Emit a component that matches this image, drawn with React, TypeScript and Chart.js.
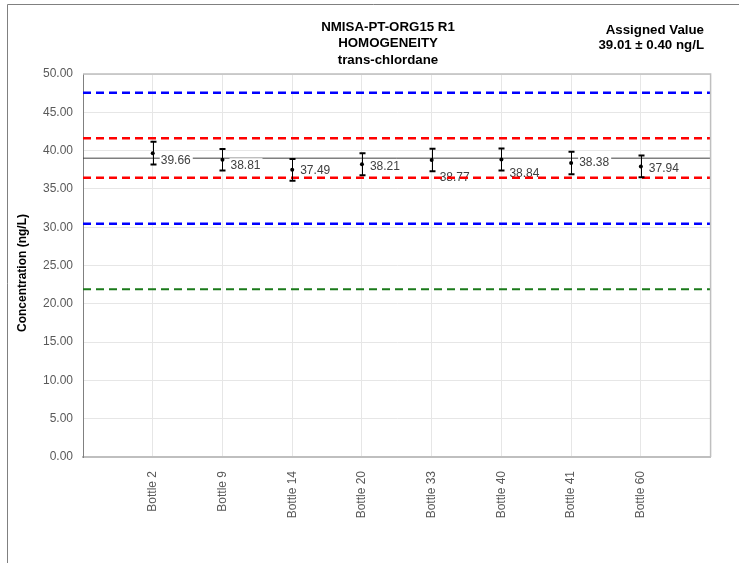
import React, { useEffect, useRef } from "react";
import { Chart, registerables } from "chart.js";

Chart.register(...registerables);

// ---- data ----
const categories = ["Bottle 2", "Bottle 9", "Bottle 14", "Bottle 20", "Bottle 33", "Bottle 40", "Bottle 41", "Bottle 60"];
const values = [39.66, 38.81, 37.49, 38.21, 38.77, 38.84, 38.38, 37.94];
const uncertainties = [1.48, 1.41, 1.41, 1.44, 1.46, 1.44, 1.46, 1.42];
const assignedValue = 39.01;
const assignedUncertainty = 0.4;
const redLimits = [41.6, 36.45];
const blueLimits = [47.55, 30.45];
const greenLimits = [21.9];
const yMin = 0;
const yMax = 50;
const yStep = 5;
const titleLines = ["NMISA-PT-ORG15 R1", "HOMOGENEITY", "trans-chlordane"];
const assignedLines = ["Assigned Value", `${assignedValue.toFixed(2)} \u00B1 ${assignedUncertainty.toFixed(2)} ng/L`];
const yAxisTitle = "Concentration (ng/L)";

// ---- styles ----
const FONT = "'Liberation Sans', Arial, sans-serif";
const labelDy = [7, 5.5, 1, 2, 18, 14, 0, 2];

const ASSIGNED_IDX = 0;
const POINTS_IDX = 1;

function hLine(y: number, color: string, dash: number[], width: number, order: number) {
  return {
    type: "line" as const,
    data: [
      { x: 0, y },
      { x: categories.length + 1, y },
    ],
    borderColor: color,
    borderWidth: width,
    borderDash: dash,
    pointRadius: 0,
    fill: false,
    order,
  };
}

const customPlugin = {
  id: "customDraw",
  beforeDraw(chart: any) {
    const { ctx, width, height } = chart;
    ctx.save();
    ctx.fillStyle = "#ffffff";
    ctx.fillRect(0, 0, width, height);
    ctx.restore();
  },
  beforeDatasetDraw(chart: any, args: any) {
    if (args.index !== POINTS_IDX) return;
    const { ctx } = chart;
    const xs = chart.scales.x;
    const ys = chart.scales.y;
    ctx.save();
    ctx.strokeStyle = "#000000";
    values.forEach((v, i) => {
      const x = Math.round(xs.getPixelForValue(i + 1)) + 0.5;
      const yt = ys.getPixelForValue(v + uncertainties[i]);
      const yb = ys.getPixelForValue(v - uncertainties[i]);
      ctx.lineWidth = 1;
      ctx.beginPath();
      ctx.moveTo(x, yt);
      ctx.lineTo(x, yb);
      ctx.stroke();
      ctx.lineWidth = 2;
      ctx.beginPath();
      ctx.moveTo(x - 3, yt);
      ctx.lineTo(x + 3, yt);
      ctx.moveTo(x - 3, yb);
      ctx.lineTo(x + 3, yb);
      ctx.stroke();
    });
    ctx.restore();
  },
  afterDatasetDraw(chart: any, args: any) {
    if (args.index !== ASSIGNED_IDX) return;
    const { ctx } = chart;
    const xs = chart.scales.x;
    const ys = chart.scales.y;
    ctx.save();
    ctx.font = `12px ${FONT}`;
    ctx.textBaseline = "middle";
    ctx.textAlign = "left";
    values.forEach((v, i) => {
      const x = xs.getPixelForValue(i + 1) + 8;
      const y = ys.getPixelForValue(v) + labelDy[i];
      const txt = v.toFixed(2);
      const w = ctx.measureText(txt).width;
      ctx.fillStyle = "#ffffff";
      ctx.fillRect(x - 1, y - 7, w + 3, 14);
      ctx.fillStyle = "#404040";
      ctx.fillText(txt, x, y);
    });
    ctx.restore();
  },
  afterDraw(chart: any) {
    const { ctx, chartArea } = chart;
    ctx.save();
    // plot top/right border
    ctx.strokeStyle = "#bfbfbf";
    ctx.lineWidth = 1.5;
    ctx.beginPath();
    ctx.moveTo(chartArea.left, chartArea.top);
    ctx.lineTo(chartArea.right, chartArea.top);
    ctx.lineTo(chartArea.right, chartArea.bottom);
    ctx.stroke();
    // outer frame
    ctx.strokeStyle = "#808080";
    ctx.lineWidth = 1;
    ctx.beginPath();
    ctx.moveTo(7.5, chart.height);
    ctx.lineTo(7.5, 4.5);
    ctx.lineTo(chart.width, 4.5);
    ctx.stroke();
    // title
    ctx.fillStyle = "#000000";
    ctx.font = `bold 13.3px ${FONT}`;
    ctx.textBaseline = "middle";
    ctx.textAlign = "center";
    titleLines.forEach((t, i) => ctx.fillText(t, 388, 27 + i * 16.8));
    ctx.textAlign = "right";
    assignedLines.forEach((t, i) => ctx.fillText(t, 704, 30 + i * 15.5));
    // y axis title
    ctx.font = `bold 12px ${FONT}`;
    ctx.save();
    ctx.translate(23, 273);
    ctx.rotate(-Math.PI / 2);
    ctx.textAlign = "center";
    ctx.fillText(yAxisTitle, 0, 0);
    ctx.restore();
    ctx.restore();
  },
};

export default function App() {
  const ref = useRef<HTMLCanvasElement | null>(null);
  useEffect(() => {
    if (!ref.current) return;
    const chart = new Chart(ref.current, {
      type: "scatter",
      data: {
        datasets: [
          hLine(assignedValue, "#404040", [], 1, 10) as any,
          {
            type: "scatter",
            data: values.map((v, i) => ({ x: i + 1, y: v })),
            pointRadius: 2,
            pointBackgroundColor: "#000000",
            pointBorderColor: "#000000",
            borderWidth: 0,
            showLine: false,
            order: 0,
          } as any,
          ...redLimits.map((v) => hLine(v, "#ff0000", [8, 5], 2.5, 5) as any),
          ...blueLimits.map((v) => hLine(v, "#0000ff", [8, 5], 2.5, 5) as any),
          ...greenLimits.map((v) => hLine(v, "#1a7a1a", [8, 5], 2, 5) as any),
        ],
      },
      options: {
        responsive: false,
        animation: false,
        devicePixelRatio: 1,
        layout: { padding: { left: 0, right: 21, top: 74, bottom: 0 } },
        plugins: { legend: { display: false }, tooltip: { enabled: false } },
        scales: {
          x: {
            type: "linear",
            min: 0,
            max: categories.length + 1,
            afterFit: (s: any) => {
              s.height = 106;
            },
            ticks: {
              stepSize: 1,
              autoSkip: false,
              minRotation: 90,
              maxRotation: 90,
              padding: 14,
              color: "#595959",
              font: { family: FONT, size: 12 },
              callback: (v: any) => categories[Number(v) - 1] ?? "",
            },
            grid: { color: "#e6e6e6", drawTicks: false },
            border: { color: "#bfbfbf", width: 2 },
          },
          y: {
            min: yMin,
            max: yMax,
            afterFit: (s: any) => {
              s.width = 83;
            },
            ticks: {
              stepSize: yStep,
              padding: 10,
              color: "#595959",
              font: { family: FONT, size: 12 },
              callback: (v: any) => Number(v).toFixed(2),
            },
            grid: { color: "#e6e6e6", drawTicks: false },
            border: { color: "#808080", width: 1 },
          },
        },
      },
      plugins: [customPlugin],
    });
    return () => chart.destroy();
  }, []);
  return (
    <div style={{ position: "absolute", left: 0, top: 0, width: 739, height: 563 }}>
      <canvas ref={ref} width={739} height={563} style={{ display: "block" }} />
    </div>
  );
}
